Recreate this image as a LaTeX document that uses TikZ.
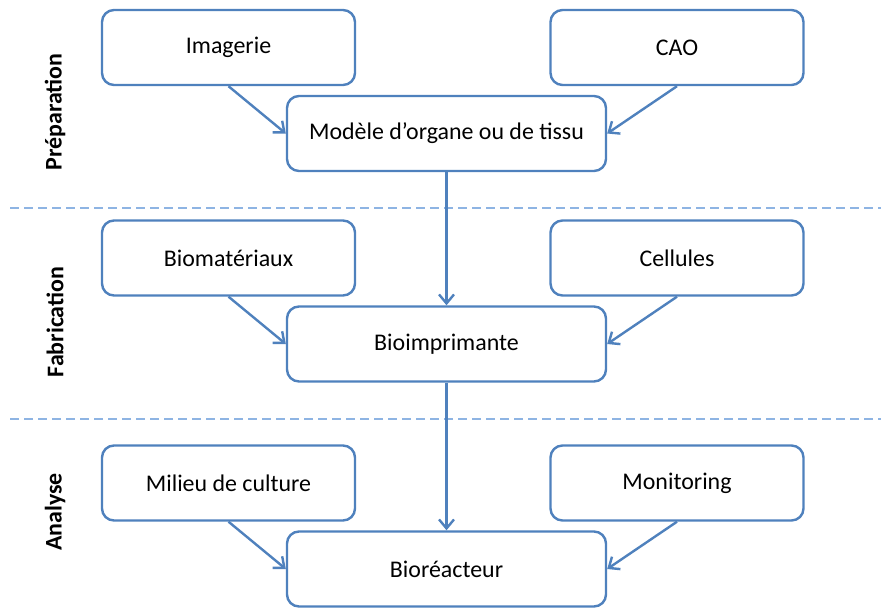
\documentclass[tikz,border=0pt]{standalone}
\usepackage{fontspec}
\setmainfont{Carlito}
\usetikzlibrary{arrows.meta}
\definecolor{boxline}{HTML}{4F81BD}
\definecolor{sepline}{HTML}{8EB4E3}
\tikzset{
  box/.style     ={draw=boxline, line width=2.4bp, rounded corners=12bp,
                   fill=white, minimum width=253bp, minimum height=75bp,
                   inner sep=2bp, font=\fontsize{24}{28}\selectfont},
  mainbox/.style ={box, minimum width=319bp},
  flow/.style    ={-{Straight Barb[length=9bp,width=15bp,line width=2.4bp]},
                   boxline, line width=2.4bp},
  sep/.style     ={sepline, line width=1.8bp, dash pattern=on 9bp off 5bp},
  phase/.style   ={rotate=90, font=\bfseries\fontsize{24}{28}\selectfont},
}
\begin{document}
\begin{tikzpicture}[x=1bp, y=-1bp]
\useasboundingbox (0,0) rectangle (881,608);

% préparation
\node[box] (img) at (228.5, 47.5) {Imagerie};
\node[box] (cao) at (677, 47.5) {CAO};
\node[mainbox] (model) at (446.5, 133.5) {Modèle d’organe ou de tissu};
\draw[flow] (img.south) -- (model.west);
\draw[flow] (cao.south) -- (model.east);

\draw[sep] (10, 208) -- (881, 208);

% fabrication
\node[box] (biomat) at (228.5, 258) {Biomatériaux};
\node[box] (cell) at (677, 258) {Cellules};
\node[mainbox] (print) at (446.5, 344) {Bioimprimante};
\draw[flow] (biomat.south) -- (print.west);
\draw[flow] (cell.south) -- (print.east);
\draw[flow] (model.south) -- (print.north);

\draw[sep] (10, 419) -- (881, 419);

% analyse
\node[box] (milieu) at (228.5, 483) {Milieu de culture};
\node[box] (monit) at (677, 483) {Monitoring};
\node[mainbox] (reactor) at (446.5, 569) {Bioréacteur};
\draw[flow] (milieu.south) -- (reactor.west);
\draw[flow] (monit.south) -- (reactor.east);
\draw[flow] (print.south) -- (reactor.north);

% phase labels
\node[phase] (prep) at (55, 112) {Préparation};
\node[phase] (fab) at (55, 322) {Fabrication};
\node[phase] (ana) at (55, 512) {Analyse};

\end{tikzpicture}
\end{document}
